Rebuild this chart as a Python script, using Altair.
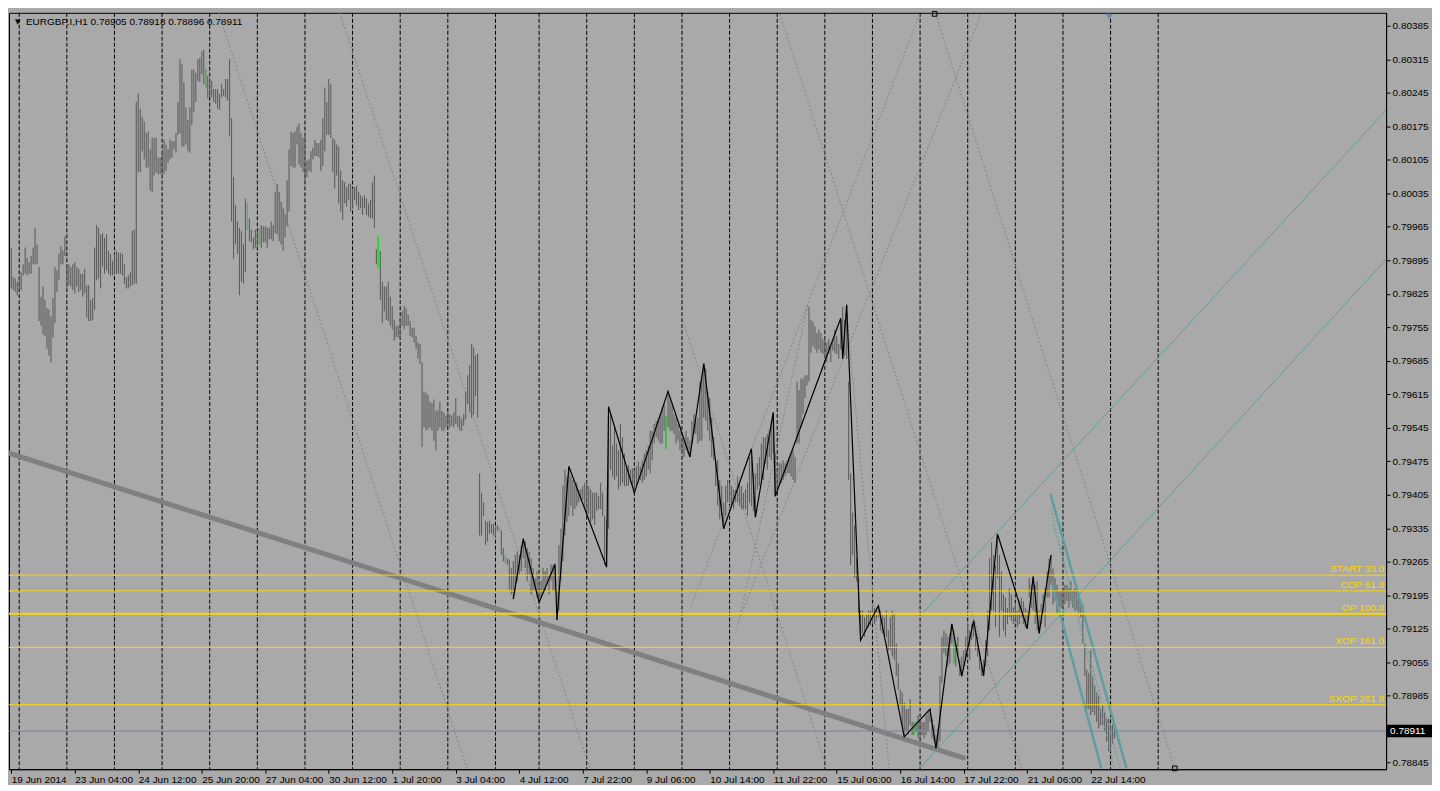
import altair as alt
import pandas as pd

alt.data_transformers.disable_max_rows()

# Plot area size
W = 1380
H = 758

# H1 bars, prices in points (1e-5). Bar 0 = 19 Jun 2014 20:00
bar_high = [
    79922, 79860, 79857, 79850, 79860, 79870, 79887, 79922, 79901, 79891,
    79904, 79922, 79963, 79928, 79881, 79819, 79840, 79812, 79795, 79792,
    79778, 79816, 79881, 79874, 79908, 79925, 79915, 79945, 79887, 79887,
    79881, 79887, 79891, 79881, 79877, 79867, 79867, 79877, 79843, 79843,
    79812, 79816, 79922, 79969, 79963, 79949, 79952, 79942, 79949, 79915,
    79908, 79894, 79908, 79915, 79911, 79911, 79908, 79887, 79860, 79863,
    79870, 79956, 79959, 80226, 80243, 80212, 80195, 80185, 80161, 80164,
    80127, 80151, 80151, 80151, 80110, 80110, 80123, 80147, 80137, 80127,
    80147, 80144, 80144, 80161, 80226, 80315, 80304, 80267, 80215, 80188,
    80215, 80294, 80294, 80287, 80315, 80318, 80332, 80335, 80294, 80280,
    80274, 80270, 80253, 80253, 80253, 80243, 80263, 80253, 80274, 80274,
    80315, 80192, 80069, 80010, 79976, 79963, 79956, 79928, 80024, 80014,
    79983, 79959, 79942, 79959, 79956, 79963, 79969, 79966, 79966, 79963,
    79963, 79976, 79969, 80038, 80055, 80038, 80017, 80004, 79990, 80062,
    80127, 80164, 80161, 80164, 80174, 80181, 80161, 80151, 80161, 80103,
    80106, 80123, 80130, 80147, 80140, 80140, 80147, 80192, 80256, 80226,
    80274, 80263, 80151, 80147, 80137, 80133, 80082, 80062, 80058, 80048,
    80055, 80055, 80045, 80048, 80051, 80038, 80031, 80027, 80031, 80024,
    80014, 80021, 80058, 80072, 79918, 79945, 79915, 79850, 79840, 79840,
    79850, 79819, 79799, 79771, 79758, 79758, 79775, 79788, 79799, 79795,
    79781, 79768, 79754, 79754, 79737, 79723, 79720, 79682, 79621, 79618,
    79614, 79600, 79597, 79604, 79580, 79583, 79600, 79580, 79577, 79570,
    79577, 79573, 79570, 79577, 79607, 79570, 79570, 79563, 79573, 79621,
    79655, 79676, 79720, 79713, 79696, 79700, 79450, 79409, 79389, 79351,
    79348, 79351, 79344, 79344, 79337, 79341, 79337, 79330, 79293, 79279,
    79272, 79269, 79252, 79266, 79279, 79286, 79279, 79300, 79313, 79307,
    79293, 79286, 79272, 79252, 79231, 79245, 79225, 79225, 79252, 79245,
    79252, 79238, 79259, 79259, 79262, 79204, 79300, 79334, 79423, 79457,
    79443, 79464, 79443, 79436, 79426, 79430, 79416, 79416, 79423, 79430,
    79433, 79423, 79416, 79409, 79409, 79409, 79402, 79430, 79409, 79361,
    79354, 79589, 79573, 79508, 79546, 79512, 79498, 79553, 79525, 79491,
    79464, 79467, 79457, 79460, 79457, 79464, 79474, 79464, 79477, 79491,
    79498, 79508, 79539, 79539, 79553, 79559, 79566, 79573, 79587, 79594,
    79570, 79621, 79607, 79594, 79573, 79566, 79553, 79539, 79525, 79518,
    79539, 79525, 79518, 79559, 79573, 79559, 79566, 79641, 79655, 79679,
    79669, 79621, 79607, 79566, 79525, 79477, 79477, 79436, 79423, 79389,
    79423, 79436, 79430, 79423, 79416, 79416, 79443, 79430, 79423, 79409,
    79416, 79430, 79484, 79501, 79450, 79450, 79471, 79484, 79512, 79525,
    79525, 79532, 79539, 79559, 79577, 79491, 79457, 79471, 79471, 79477,
    79471, 79477, 79484, 79491, 79498, 79484, 79641, 79624, 79648, 79648,
    79655, 79655, 79798, 79771, 79767, 79757, 79743, 79750, 79743, 79730,
    79733, 79723, 79730, 79716, 79730, 79750, 79737, 79720, 79771, 79798,
    79771, 79802, 79641, 79450, 79368, 79340, 79272, 79231, 79163, 79163,
    79149, 79156, 79163, 79163, 79173, 79169, 79169, 79173, 79163, 79156,
    79149, 79163, 79121, 79149, 79163, 79156, 79094, 79053, 78998, 78992,
    78971, 78957, 78957, 78978, 78930, 78930, 78930, 78944, 78937, 78930,
    78930, 78944, 78951, 78957, 78937, 78923, 78903, 78916, 79026, 79108,
    79121, 79115, 79108, 79115, 79135, 79121, 79094, 79108, 79060, 79067,
    79080, 79108, 79135, 79121, 79135, 79142, 79121, 79108, 79080, 79053,
    79060, 79101, 79163, 79272, 79306, 79279, 79258, 79323, 79279, 79245,
    79197, 79190, 79169, 79210, 79197, 79169, 79176, 79163, 79183, 79190,
    79183, 79169, 79163, 79231, 79217, 79234, 79217, 79224, 79163, 79176,
    79197, 79210, 79245, 79272, 79279, 79251, 79231, 79217, 79204, 79204,
    79210, 79217, 79217, 79210, 79224, 79204, 79210, 79204, 79190, 79183,
    79176, 79094, 79039, 79033, 79080, 79026, 79005, 78992, 78985, 78957,
    78964, 78951, 78937, 78937, 78923, 78925, 78918,
]
bar_low = [
    79836, 79833, 79829, 79822, 79833, 79833, 79863, 79867, 79863, 79867,
    79867, 79887, 79887, 79887, 79768, 79758, 79740, 79737, 79710, 79696,
    79682, 79734, 79764, 79829, 79853, 79887, 79887, 79904, 79833, 79843,
    79840, 79833, 79826, 79840, 79829, 79833, 79819, 79826, 79775, 79768,
    79768, 79771, 79792, 79853, 79857, 79836, 79881, 79867, 79874, 79867,
    79863, 79863, 79867, 79867, 79867, 79867, 79863, 79846, 79836, 79836,
    79840, 79843, 79846, 79846, 80079, 80079, 80123, 80106, 80089, 80089,
    80041, 80038, 80072, 80079, 80075, 80075, 80075, 80075, 80082, 80099,
    80106, 80110, 80127, 80120, 80157, 80161, 80133, 80133, 80137, 80123,
    80120, 80178, 80205, 80226, 80270, 80267, 80284, 80263, 80256, 80233,
    80236, 80236, 80226, 80222, 80212, 80209, 80236, 80239, 80236, 80229,
    80154, 79976, 79898, 79928, 79908, 79822, 79850, 79846, 79870, 79959,
    79935, 79932, 79918, 79921, 79921, 79928, 79921, 79932, 79932, 79921,
    79939, 79939, 79935, 79952, 79949, 79935, 79928, 79915, 79942, 79966,
    79997, 80092, 80089, 80089, 80137, 80096, 80089, 80079, 80058, 80069,
    80082, 80079, 80106, 80113, 80113, 80110, 80082, 80092, 80123, 80157,
    80157, 80151, 80079, 80045, 80072, 80014, 79997, 79980, 80014, 80007,
    80021, 79997, 80004, 80021, 80010, 80000, 80004, 79990, 80004, 79990,
    79986, 79983, 79983, 79963, 79887, 79877, 79812, 79764, 79788, 79771,
    79768, 79758, 79751, 79727, 79734, 79734, 79730, 79758, 79751, 79758,
    79758, 79737, 79734, 79723, 79710, 79689, 79679, 79505, 79546, 79539,
    79542, 79546, 79539, 79518, 79498, 79539, 79546, 79539, 79539, 79546,
    79549, 79546, 79549, 79546, 79553, 79546, 79539, 79539, 79549, 79563,
    79594, 79577, 79566, 79573, 79611, 79566, 79320, 79320, 79361, 79300,
    79307, 79324, 79324, 79320, 79317, 79330, 79327, 79279, 79266, 79262,
    79259, 79207, 79197, 79187, 79204, 79225, 79238, 79245, 79272, 79252,
    79225, 79238, 79197, 79204, 79204, 79190, 79180, 79190, 79204, 79204,
    79218, 79197, 79225, 79204, 79204, 79143, 79163, 79225, 79266, 79320,
    79348, 79361, 79382, 79361, 79375, 79382, 79389, 79395, 79395, 79375,
    79361, 79365, 79348, 79354, 79341, 79371, 79375, 79375, 79361, 79259,
    79253, 79334, 79457, 79443, 79436, 79443, 79416, 79423, 79430, 79423,
    79423, 79423, 79430, 79423, 79409, 79423, 79430, 79436, 79430, 79436,
    79443, 79457, 79450, 79477, 79512, 79525, 79518, 79512, 79512, 79539,
    79501, 79546, 79539, 79539, 79532, 79512, 79518, 79498, 79491, 79484,
    79498, 79491, 79484, 79512, 79532, 79532, 79512, 79518, 79518, 79566,
    79559, 79539, 79518, 79484, 79477, 79423, 79382, 79354, 79361, 79334,
    79361, 79389, 79389, 79382, 79375, 79389, 79389, 79382, 79375, 79375,
    79375, 79361, 79389, 79382, 79371, 79358, 79416, 79423, 79430, 79436,
    79471, 79457, 79484, 79477, 79491, 79402, 79416, 79423, 79430, 79436,
    79443, 79450, 79450, 79443, 79436, 79430, 79512, 79512, 79546, 79573,
    79607, 79634, 79641, 79702, 79716, 79709, 79702, 79709, 79702, 79699,
    79689, 79682, 79699, 79682, 79706, 79702, 79699, 79689, 79709, 79689,
    79696, 79689, 79436, 79258, 79279, 79231, 79224, 79156, 79101, 79115,
    79108, 79122, 79128, 79132, 79135, 79135, 79142, 79149, 79121, 79115,
    79108, 79108, 79080, 79080, 79067, 79060, 79026, 78998, 78964, 78923,
    78899, 78910, 78903, 78923, 78903, 78903, 78910, 78896, 78896, 78903,
    78896, 78903, 78910, 78930, 78896, 78889, 78875, 78875, 78889, 79012,
    79074, 79067, 79046, 79053, 79094, 79053, 79046, 79067, 79026, 79026,
    79046, 79060, 79087, 79060, 79101, 79108, 79080, 79067, 79039, 79026,
    79026, 79046, 79067, 79121, 79163, 79163, 79128, 79231, 79108, 79163,
    79121, 79108, 79135, 79149, 79142, 79135, 79142, 79128, 79135, 79149,
    79135, 79128, 79125, 79190, 79169, 79163, 79135, 79121, 79115, 79135,
    79156, 79128, 79190, 79190, 79217, 79176, 79183, 79156, 79163, 79169,
    79169, 79176, 79183, 79169, 79183, 79169, 79163, 79163, 79156, 79149,
    79094, 79026, 78957, 78957, 78944, 78951, 78944, 78930, 78916, 78923,
    78923, 78910, 78889, 78869, 78875, 78885, 78896,
]
green_bars = [98, 119, 125, 185, 246, 249, 330, 455, 475]

# first bar of each trading day (period separators)
day_starts = [4, 28, 52, 76, 100, 124, 148, 172, 196, 220, 244, 266, 290,
              314, 338, 362, 386, 410, 434, 458, 482, 506, 530, 554, 578]

# time axis
label_bars = [0, 32, 64, 96, 128, 160, 192, 224, 256, 288, 320, 352, 384,
              416, 448, 480, 512, 544]
date_labels = ['19 Jun 2014', '23 Jun 04:00', '24 Jun 12:00', '25 Jun 20:00',
               '27 Jun 04:00', '30 Jun 12:00', '1 Jul 20:00', '3 Jul 04:00',
               '4 Jul 12:00', '7 Jul 22:00', '9 Jul 06:00', '10 Jul 14:00',
               '11 Jul 22:00', '15 Jul 06:00', '16 Jul 14:00', '17 Jul 22:00',
               '21 Jul 06:00', '22 Jul 14:00']

# price axis
price_ticks = [0.78845, 0.78985, 0.79055, 0.79125, 0.79195, 0.79265,
               0.79335, 0.79405, 0.79475, 0.79545, 0.79615, 0.79685, 0.79755,
               0.79825, 0.79895, 0.79965, 0.80035, 0.80105, 0.80175, 0.80245,
               0.80315, 0.80385]

# ZigZag swing points (bar, points)
zz_bars = [253, 258, 266, 274, 275, 281, 300, 301, 314, 331, 342, 349, 359,
           373, 375, 384, 385, 418, 419, 421, 428, 437, 450, 463, 466, 474,
           479, 485, 490, 497, 512, 515, 518, 524]
zz_points = [79187, 79313, 79180, 79259, 79143, 79464, 79254, 79589, 79409,
             79621, 79484, 79679, 79334, 79501, 79358, 79577, 79402, 79774,
             79689, 79802, 79101, 79173, 78899, 78957, 78875, 79135, 79026,
             79142, 79026, 79323, 79125, 79234, 79115, 79279]

# dotted grey lines: start bar, start points, end bar, end points
dot_b1 = [104.35, 165.35, 387.35, 465.85, 457.85, 488.85, 338.85, 401.35, 420.85]
dot_p1 = [80414, 80414, 80410, 80410, 80410, 80410, 79764, 79801, 79791]
dot_b2 = [229.85, 291.85, 509.35, 586.35, 342.35, 365.35, 410.85, 366.35, 442.35]
dot_p2 = [78831, 78831, 78831, 78833, 79170, 79129, 78835, 79133, 78835]

# thick grey trend line
trend_b = [-1.15, 479.85]
trend_p = [79492, 78855]

# cadet blue channel (thin)
chan_b1 = [459.0, 458.2]
chan_p1 = [79156, 78835]
chan_b2 = [692.85, 692.85]
chan_p2 = [80209, 79897]

# cadet blue falling lines (thick) and dotted inner lines
fall_b1 = [523.7, 524.35]
fall_p1 = [79407, 79221]
fall_b2 = [562.0, 549.35]
fall_p2 = [78833, 78833]
fdot_b1 = [524.0, 525.0]
fdot_p1 = [79375, 79344]
fdot_b2 = [556.0, 558.85]
fdot_p2 = [78833, 78833]

# levels
level_names = ['START 33.0', 'COP 61.8', 'OP 100.0', 'XOP 161.0', 'SXOP 261.8']
level_prices = [0.79237, 0.79204, 0.79156, 0.79086, 0.78966]
level_width = [1, 1, 2, 1, 1]

last_price = 0.78911
header = 'EURGBP.I,H1  0.78905 0.78918 0.78896 0.78911'

# object anchors: (bar, points)
square_b = [465.35, 586.35]
square_p = [80410, 78833]
tri_b = [553.35]
tri_p = [80404]

FONT = 'Liberation Sans'
FS = 10

# ---- tables ----
bars_df = pd.DataFrame({'i': list(range(len(bar_high))),
                        'p': [v / 1e5 for v in bar_low],
                        'p2': [v / 1e5 for v in bar_high]})
green_df = bars_df[bars_df['i'].isin(green_bars)]
sep_df = pd.DataFrame({'i': day_starts})
zz_df = pd.DataFrame({'i': zz_bars, 'p': [v / 1e5 for v in zz_points]})


def seg_df(b1, p1, b2, p2):
    return pd.DataFrame({'i': b1, 'p': [v / 1e5 for v in p1],
                         'i2': b2, 'p2': [v / 1e5 for v in p2]})


dot_df = seg_df(dot_b1, dot_p1, dot_b2, dot_p2)
trend_df = seg_df(trend_b[:1], trend_p[:1], trend_b[1:], trend_p[1:])
chan_df = seg_df(chan_b1, chan_p1, chan_b2, chan_p2)
fall_df = seg_df(fall_b1, fall_p1, fall_b2, fall_p2)
fdot_df = seg_df(fdot_b1, fdot_p1, fdot_b2, fdot_p2)
level_df = pd.DataFrame({'name': level_names, 'p': level_prices, 'w': level_width})
price_df = pd.DataFrame({'p': [last_price], 'p2': [last_price + 0.00013],
                         'p0': [last_price - 0.00013],
                         'label': ['%.5f' % last_price]})
square_df = pd.DataFrame({'i': square_b, 'p': [v / 1e5 for v in square_p]})
tri_df = pd.DataFrame({'i': tri_b, 'p': [v / 1e5 for v in tri_p]})
head_df = pd.DataFrame({'t': [header]})

# ---- scales and axes ----
x_scale = alt.Scale(domain=[-1.15, 692.85], nice=False, zero=False)
y_scale = alt.Scale(domain=[0.788313, 0.804123], nice=False, zero=False)

label_expr = ('[' + ','.join("'%s'" % s for s in date_labels) + ']'
              + '[indexof([' + ','.join(str(b) for b in label_bars) + '], datum.value)]')

x_axis = alt.Axis(values=label_bars, labelExpr=label_expr, labelAlign='left',
                  labelFont=FONT, labelFontSize=FS, labelColor='black',
                  labelPadding=1, labelOverlap=False, labelFlush=False,
                  labelBound=False, tickColor='black', tickSize=4,
                  domainColor='black', grid=False, title=None)
y_axis = alt.Axis(orient='right', values=price_ticks, format='.5f',
                  labelFont=FONT, labelFontSize=FS, labelColor='black',
                  labelPadding=2, labelOverlap=False, tickColor='black',
                  tickSize=4, domainColor='black', grid=False, title=None)

X = alt.X('i:Q', scale=x_scale, axis=x_axis)
Y = alt.Y('p:Q', scale=y_scale, axis=y_axis)

# ---- layers ----
separators = alt.Chart(sep_df).mark_rule(
    color='black', strokeDash=[4, 2], strokeWidth=1).encode(x=X)

dotted = alt.Chart(dot_df).mark_rule(
    color='#858585', strokeDash=[2, 2], strokeWidth=1, clip=True
).encode(x=X, y=Y, x2='i2:Q', y2='p2:Q')

bars = alt.Chart(bars_df).mark_rule(color='#5e5e5e', strokeWidth=1.1).encode(
    x=X, y=Y, y2='p2:Q')
green = alt.Chart(green_df).mark_rule(color='#22dd22', strokeWidth=1.1).encode(
    x=X, y=Y, y2='p2:Q')

trend = alt.Chart(trend_df).mark_rule(
    color='#808080', strokeWidth=5, strokeCap='round', clip=True
).encode(x=X, y=Y, x2='i2:Q', y2='p2:Q')

channel = alt.Chart(chan_df).mark_rule(
    color='#5F9EA0', strokeWidth=1, clip=True
).encode(x=X, y=Y, x2='i2:Q', y2='p2:Q')
falling = alt.Chart(fall_df).mark_rule(
    color='#5F9EA0', strokeWidth=2.5, clip=True
).encode(x=X, y=Y, x2='i2:Q', y2='p2:Q')
falling_dots = alt.Chart(fdot_df).mark_rule(
    color='#5F9EA0', strokeWidth=1, strokeDash=[2, 2], clip=True
).encode(x=X, y=Y, x2='i2:Q', y2='p2:Q')

levels = alt.Chart(level_df).mark_rule(color='#FFD700').encode(
    y=Y, strokeWidth=alt.StrokeWidth('w:Q', scale=None, legend=None))
level_text = alt.Chart(level_df).mark_text(
    align='right', baseline='bottom', dy=-1, color='#FFD700',
    font=FONT, fontSize=FS
).encode(x=alt.value(W - 2), y=Y, text='name:N')

price_line = alt.Chart(price_df).mark_rule(color='#7088a0', strokeWidth=1).encode(y=Y)
price_box = alt.Chart(price_df).mark_rect(color='black').encode(
    x=alt.value(W + 1), x2=alt.value(W + 46),
    y=alt.Y('p0:Q', scale=y_scale, axis=y_axis), y2='p2:Q')
price_text = alt.Chart(price_df).mark_text(
    align='left', baseline='middle', color='white', font=FONT, fontSize=FS
).encode(x=alt.value(W + 4), y=Y, text='label:N')

zigzag = alt.Chart(zz_df).mark_line(color='black', strokeWidth=1.2, clip=True).encode(
    x=X, y=Y, order='i:Q')

squares = alt.Chart(square_df).mark_point(
    shape='square', filled=False, color='black', size=22, strokeWidth=1, opacity=1
).encode(x=X, y=Y)
triangle = alt.Chart(tri_df).mark_point(
    shape='triangle-down', filled=True, color='#6f8aa6', size=50, opacity=1
).encode(x=X, y=Y)

head_mark = alt.Chart(head_df).mark_text(
    text='\u25bc', font='DejaVu Sans', fontSize=7, color='black',
    align='left', baseline='middle'
).encode(x=alt.value(6), y=alt.value(9))
head_text = alt.Chart(head_df).mark_text(
    align='left', baseline='middle', color='black', font=FONT, fontSize=FS
).encode(x=alt.value(17), y=alt.value(9), text='t:N')

chart = alt.layer(
    separators, dotted, bars, green, trend, channel, falling_dots, falling,
    levels, price_line, zigzag, level_text, price_box, price_text,
    squares, triangle, head_mark, head_text
).properties(
    width=W, height=H, padding=0, background='#A9A9A9'
).configure_view(
    stroke='black', strokeWidth=1, fill='#A9A9A9'
)

chart.save("out.html", embed_options={"renderer": "svg", "actions": False})
